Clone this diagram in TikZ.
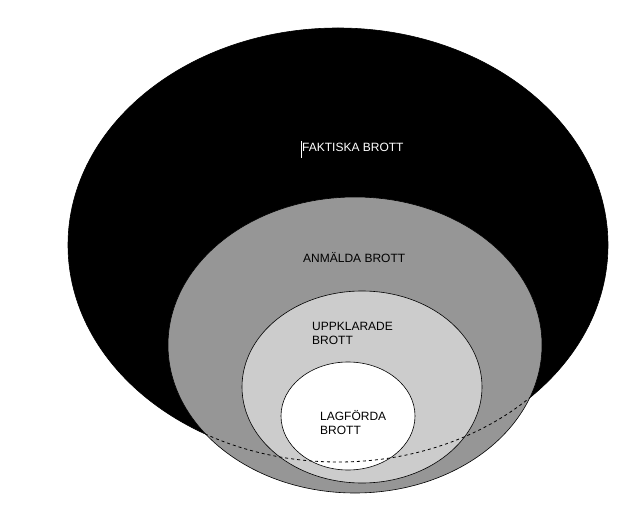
\documentclass[tikz,border=0pt]{standalone}
\usepackage{fontspec}
\setmainfont{Liberation Sans}
\begin{document}
\begin{tikzpicture}[x=1pt,y=1pt,
  ring/.style={draw=black,line width=0.6pt},
  lbl/.style={font=\fontsize{12}{14}\selectfont,align=left,inner sep=0pt}]
\useasboundingbox (0,0) rectangle (624,-505);
\fill[white] (0,0) rectangle (624,-505);
\path[ring,fill=black] (338,-245) ellipse [x radius=270,y radius=217];
\path[ring,fill={rgb,255:red,150;green,150;blue,150}] (355,-345) ellipse [x radius=187,y radius=148];
\path[ring,fill={rgb,255:red,204;green,204;blue,204}] (362,-387) ellipse [x radius=120,y radius=96];
\path[ring,fill=white] (348,-416) ellipse [x radius=67,y radius=54];
\begin{scope}
\clip (355,-345) ellipse [x radius=187,y radius=148];
\draw[dashed,line width=0.8pt] (338,-245) ellipse [x radius=270,y radius=217];
\end{scope}
\node[lbl,text=white,anchor=west] (f) at (302,-147) {FAKTISKA BROTT};
\draw[white,line width=0.6pt] (f.north west) ++(-1,2) -- ++(0,-17);
\node[lbl,anchor=west] (a) at (303,-258) {ANMÄLDA BROTT};
\node[lbl,anchor=west] (u) at (312,-333) {UPPKLARADE\\BROTT};
\node[lbl,anchor=west] (l) at (320,-423) {LAGFÖRDA\\BROTT};
\end{tikzpicture}
\end{document}
